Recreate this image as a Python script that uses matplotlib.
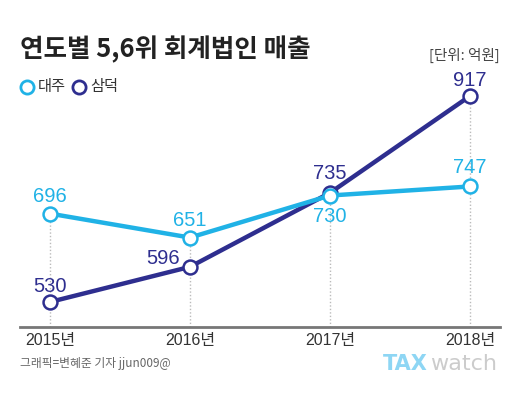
import matplotlib
matplotlib.use('Agg')
import matplotlib.pyplot as plt

plt.rcParams['font.family'] = ['Noto Sans CJK KR', 'DejaVu Sans']

years = [2015, 2016, 2017, 2018]
year_labels = ['2015년', '2016년', '2017년', '2018년']
daeju = [696, 651, 730, 747]
samduk = [530, 596, 735, 917]

c_daeju = '#20B2E6'
c_samduk = '#2E2E8F'
num_font = ['Liberation Sans', 'Noto Sans CJK KR']

fig = plt.figure(figsize=(5.2, 3.98), dpi=100)
ax = fig.add_axes([20/520, 1 - 327/398, 480/520, 247/398])
ax.set_xlim(2014.786, 2018.214)
ax.set_ylim(483, 947)

# dotted guide lines up to the higher point of each year
for x, a, b in zip(years, daeju, samduk):
    ax.plot([x, x], [483, max(a, b)], color='#bbbbbb', lw=1, ls=(0, (1, 1.5)), zorder=1)

for vals, col in [(samduk, c_samduk), (daeju, c_daeju)]:
    ax.plot(years, vals, color=col, lw=3.2, marker='o', ms=10,
            mfc='white', mec=col, mew=1.8, zorder=3, solid_capstyle='round')

# value label offsets in points (dx, dy, ha)
off_d = [(0, 8.6, 'center'), (0, 8.6, 'center'), (0, -19.4, 'center'), (0, 9.4, 'center')]
off_s = [(0, 7.2, 'center'), (-7.2, 2.2, 'right'), (0, 10, 'center'), (0, 7.2, 'center')]
for i, x in enumerate(years):
    for vals, offs, col in [(daeju, off_d, c_daeju), (samduk, off_s, c_samduk)]:
        dx, dy, ha = offs[i]
        ax.annotate(str(vals[i]), (x, vals[i]), xytext=(dx, dy), textcoords='offset points',
                    ha=ha, va='baseline', fontsize=14.5, color=col, family=num_font)

for s in ['top', 'right', 'left']:
    ax.spines[s].set_visible(False)
ax.spines['bottom'].set_color('#777777')
ax.spines['bottom'].set_linewidth(2)
ax.set_yticks([])
ax.set_xticks(years)
ax.set_xticklabels(year_labels, fontsize=11.5, color='#333333', family=num_font)
ax.tick_params(axis='x', length=0, pad=4)

fig.text(20/520, 1 - 50/398, '연도별 5,6위 회계법인 매출', fontsize=18.4, fontweight='bold',
         color='#222222', va='center', ha='left')
fig.text(500/520, 1 - 55/398, '[단위: 억원]', fontsize=10.5, color='#444444', va='center', ha='right')

# legend
fig.add_artist(plt.Line2D([27/520], [1 - 87/398], marker='o', ms=9.5, mfc='white', mec=c_daeju, mew=2))
fig.text(38/520, 1 - 87/398, '대주', fontsize=11, color='#333333', va='center')
fig.add_artist(plt.Line2D([79/520], [1 - 87/398], marker='o', ms=9.5, mfc='white', mec=c_samduk, mew=2))
fig.text(90/520, 1 - 87/398, '삼덕', fontsize=11, color='#333333', va='center')

fig.text(20/520, 1 - 364/398, '그래픽=변혜준 기자 jjun009@', fontsize=8.5, color='#666666', va='center')
fig.text(383/520, 1 - 364/398, 'TAX', fontsize=15, fontweight='bold', color='#8ED6F4',
         va='center', family='DejaVu Sans')
fig.text(430/520, 1 - 364/398, 'watch', fontsize=16, color='#cccccc', va='center', family='DejaVu Sans')

fig.savefig('out.png', dpi=100)
